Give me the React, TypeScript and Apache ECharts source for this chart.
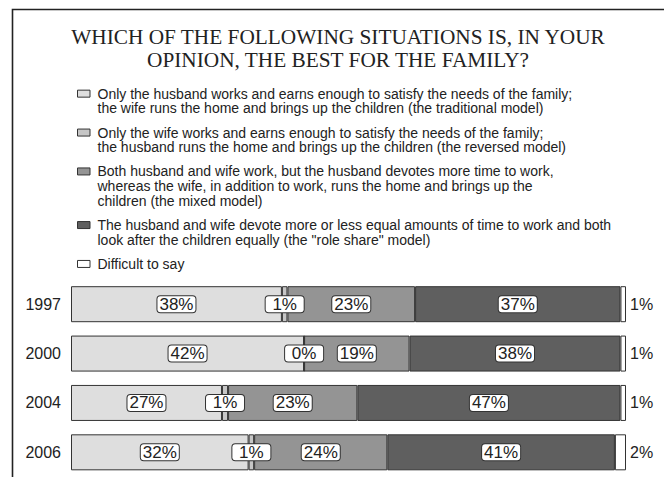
import React, { useEffect, useRef } from "react";
import * as echarts from "echarts";

const years = ["1997", "2000", "2004", "2006"];
const traditional = [38, 42, 27.2, 32];
const reversed = [1, 0, 1.1, 1];
const mixed = [23, 19, 23.3, 24];
const roleShare = [37, 38, 47.4, 41];
const difficult = [1, 1, 1.0, 2];

const seriesNames = [
  "Only the husband works and earns enough to satisfy the needs of the family;\nthe wife runs the home and brings up the children (the traditional model)",
  "Only the wife works and earns enough to satisfy the needs of the family;\nthe husband runs the home and brings up the children (the reversed model)",
  "Both husband and wife work, but the husband devotes more time to work,\nwhereas the wife, in addition to work, runs the home and brings up the\nchildren (the mixed model)",
  "The husband and wife devote more or less equal amounts of time to work and both\nlook after the children equally (the \"role share\" model)",
  "Difficult to say",
];
const seriesColors = ["#dedede", "#c6c6c6", "#949494", "#5f5f5f", "#ffffff"];
const titleText = "WHICH OF THE FOLLOWING SITUATIONS IS, IN YOUR\nOPINION, THE BEST FOR THE FAMILY?";

export default function App() {
  const ref = useRef<HTMLDivElement>(null);
  useEffect(() => {
    const chart = echarts.init(ref.current as HTMLDivElement, null, { renderer: "svg" });
    const seriesData = [traditional, reversed, mixed, roleShare, difficult];

    const fmt = (p: any) => Math.round(p.value) + "%";
    const boxLabel = {
      show: true,
      position: "inside",
      formatter: fmt,
      fontFamily: "Liberation Sans",
      fontSize: 17,
      lineHeight: 14,
      color: "#222",
      backgroundColor: "#ffffff",
      borderColor: "#333",
      borderWidth: 1,
      borderRadius: 3,
      width: 36,
      padding: [1, 1, 1, 1],
    };

    const series = seriesData.map((d, i) => ({
      name: seriesNames[i],
      type: "bar",
      stack: "total",
      barWidth: 36,
      data: d,
      itemStyle: { color: seriesColors[i], borderColor: "#333", borderWidth: 1 },
      label:
        i < 4
          ? boxLabel
          : {
              show: true,
              position: "right",
              distance: 4,
              formatter: fmt,
              fontFamily: "Liberation Sans",
              fontSize: 16,
              color: "#222",
            },
    }));

    // legend drawn as graphic so the icon lines up with the first text line
    const lineH = 14.7;
    const gap = 9.5;
    let top = 86.3;
    const legendEls: any[] = [];
    seriesNames.forEach((name, i) => {
      const lines = name.split("\n").length;
      legendEls.push({
        type: "rect",
        shape: { x: 77.5, y: top + lineH / 2 - 3.5, width: 12.5, height: 7 },
        style: { fill: seriesColors[i], stroke: "#333", lineWidth: 1 },
      });
      legendEls.push({
        type: "text",
        x: 97.5,
        y: top,
        style: {
          text: name,
          fontFamily: "Liberation Sans",
          fontSize: 14,
          lineHeight: lineH,
          fill: "#222",
          align: "left",
          verticalAlign: "top",
        },
      });
      top += lines * lineH + gap;
    });

    chart.setOption({
      animation: false,
      grid: { left: 71, top: 279.5, width: 555, height: 200, containLabel: false },
      xAxis: { type: "value", min: 0, max: 100, show: false },
      yAxis: {
        type: "category",
        data: years,
        inverse: true,
        axisLine: { show: false },
        axisTick: { show: false },
        axisLabel: { fontFamily: "Liberation Sans", fontSize: 16, color: "#222", margin: 10 },
      },
      series,
      graphic: [
        {
          type: "rect",
          shape: { x: 12.5, y: 9.5, width: 720, height: 520 },
          style: { fill: "none", stroke: "#222", lineWidth: 1.6 },
        },
        {
          type: "text",
          x: 338,
          y: 25.5,
          style: {
            text: titleText,
            fontFamily: "Liberation Serif",
            fontSize: 21.3,
            lineHeight: 23,
            fill: "#222",
            align: "center",
            verticalAlign: "top",
          },
        },
        ...legendEls,
      ],
    });
    return () => chart.dispose();
  }, []);
  return (
    <div
      ref={ref}
      style={{ position: "absolute", left: 0, top: 0, width: 664, height: 477, background: "#fff" }}
    />
  );
}
